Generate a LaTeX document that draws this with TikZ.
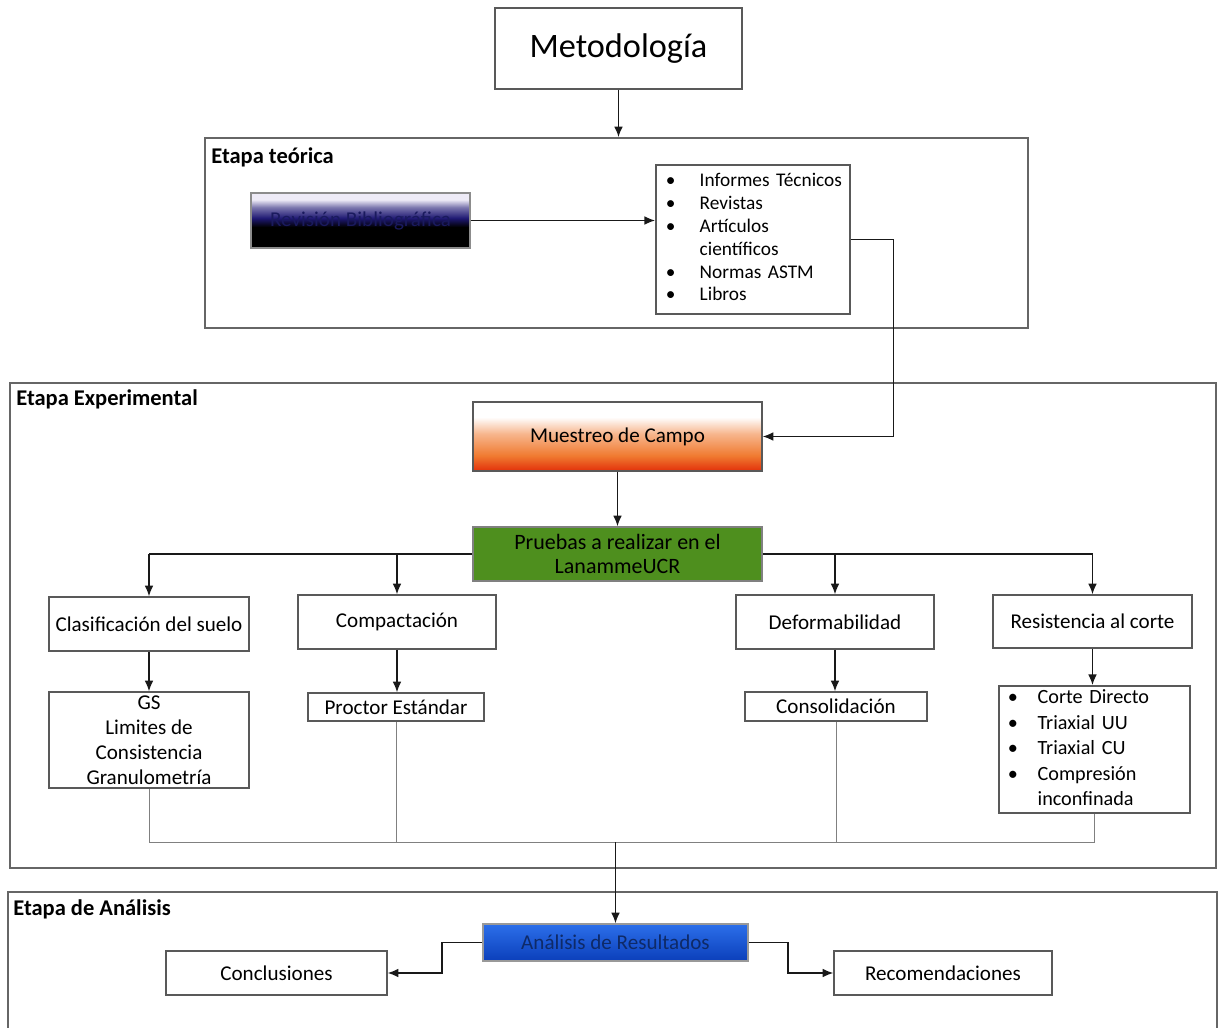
\documentclass[tikz,border=0pt]{standalone}
\usepackage{fontspec}
\setmainfont{Carlito}
\usetikzlibrary{arrows.meta}
\definecolor{revtop}{HTML}{EEEBF7}
\definecolor{revmid}{HTML}{1E1872}
\definecolor{revtext}{HTML}{1A1A5E}
\definecolor{muesmid}{HTML}{F07A30}
\definecolor{muesbot}{HTML}{E2300A}
\definecolor{pruebasgreen}{HTML}{4E8F1E}
\definecolor{anatop}{HTML}{2C6FEA}
\definecolor{anabot}{HTML}{0B3FBA}
\definecolor{anatext}{HTML}{0E2A68}
% sombreados
\pgfdeclareverticalshading{revshade}{100bp}{color(0bp)=(black); color(25bp)=(black);
  color(44bp)=(black); color(52bp)=(revmid); color(62bp)=(revmid!55!revtop);
  color(69bp)=(revtop); color(100bp)=(revtop)}
\pgfdeclareverticalshading{muesshade}{100bp}{color(0bp)=(muesbot); color(25bp)=(muesbot);
  color(36bp)=(muesmid); color(52bp)=(muesmid!55!white); color(64bp)=(white);
  color(100bp)=(white)}
\tikzset{
  stage/.style = {
    draw=black!60, line width=1pt, inner sep=0pt
  },
  stage label/.style = {
    anchor=base west, inner sep=0pt,
    font=\bfseries\fontsize{12.8}{14}\selectfont
  },
  box/.style = {
    draw=black!65, line width=0.9pt, fill=white, inner sep=0pt,
    align=center, font=\fontsize{12}{13}\selectfont
  },
  conn/.style = {
    draw=black!90, line width=0.85pt, -{Latex[length=6pt,width=5pt]}
  },
  link/.style = {
    draw=black!50, line width=0.5pt
  }
}

\begin{document}
\begin{tikzpicture}[x=0.02cm, y=-0.02cm]
    \useasboundingbox (0,0) rectangle (1225,1028);
    \clip (0,0) rectangle (1225,1028);
    % las etapas
    \node[stage, minimum width=16.46cm, minimum height=3.8cm] (teorica) at (616.5,233) {};
    \node[stage, minimum width=24.12cm, minimum height=9.7cm] (experimental) at (613,625.5) {};
    \node[stage, minimum width=24.18cm, minimum height=2.76cm] (analisis) at (612.5,961) {};
    \node[stage label] (lblteorica) at (211,163) {Etapa teórica};
    \node[stage label] (lblexperimental) at (16,405) {Etapa Experimental};
    \node[stage label] (lblanalisis) at (13,915) {Etapa de Análisis};
    % las cajas
    \node[box, minimum width=4.94cm, minimum height=1.62cm,
      font=\fontsize{19.5}{22}\selectfont] (metodo) at (618.5,48.5) {Metodología};
    \node[box, minimum width=4.38cm, minimum height=1.1cm, draw=black!45,
      shading=revshade, text=revtext] (revision) at (360.5,220.5) {Revisión Bibliográfica};
    \node[box, anchor=north west, text width=3.88cm, minimum height=2.98cm,
      align=left, font=\fontsize{11}{13}\selectfont] (fuentes) at (655,164) {%
      \begin{tabular}{@{\hspace{5.7pt}}p{19.3pt}@{}l@{}}
        \textbullet & Informes Técnicos\\
        \textbullet & Revistas\\
        \textbullet & Artículos\\
                    & científicos\\
        \textbullet & Normas ASTM\\
        \textbullet & Libros
      \end{tabular}};
    \node[box, minimum width=5.78cm, minimum height=1.38cm,
      shading=muesshade] (muestreo) at (617.5,436.5) {Muestreo de Campo};
    \node[box, minimum width=5.78cm, minimum height=1.08cm, fill=pruebasgreen,
      draw=black!50, font=\fontsize{12.5}{13.5}\selectfont] (pruebas) at (617.5,554) {Pruebas a realizar en el\\LanammeUCR};
    \node[box, minimum width=4cm, minimum height=1.08cm] (clasif) at (149,624) {Clasificación del suelo};
    \node[box, minimum width=3.96cm, minimum height=1.08cm] (compact) at (397,622) {Compactación};
    \node[box, minimum width=3.96cm, minimum height=1.08cm] (deform) at (835,622) {Deformabilidad};
    \node[box, minimum width=3.98cm, minimum height=1.06cm] (resist) at (1092.5,621.5) {Resistencia al corte};
    \node[box, minimum width=4cm, minimum height=1.92cm,
      font=\fontsize{12}{14.2}\selectfont] (gs) at (149,740) {GS\\Limites de\\Consistencia\\Granulometría};
    \node[box, minimum width=3.52cm, minimum height=0.56cm] (proctor) at (396,707) {Proctor Estándar};
    \node[box, minimum width=3.64cm, minimum height=0.58cm] (consol) at (836,706.5) {Consolidación};
    \node[box, anchor=north west, text width=3.82cm, minimum height=2.52cm,
      align=left, font=\fontsize{11.5}{14.5}\selectfont] (ensayos) at (998,685) {%
      \begin{tabular}{@{\hspace{5.1pt}}p{17pt}@{}l@{}}
        \textbullet & Corte Directo\\
        \textbullet & Triaxial UU\\
        \textbullet & Triaxial CU\\
        \textbullet & Compresión\\
                    & inconfinada
      \end{tabular}};
    \node[box, minimum width=5.3cm, minimum height=0.74cm, draw=black!40,
      top color=anatop, bottom color=anabot, text=anatext] (resultados) at (615.5,942.5) {Análisis de Resultados};
    \node[box, minimum width=4.42cm, minimum height=0.88cm] (conclus) at (276.5,973) {Conclusiones};
    \node[box, minimum width=4.36cm, minimum height=0.88cm] (recom) at (943,973) {Recomendaciones};
    \coordinate (join) at (615.5,842);
    % las flechas
    \draw[conn] (metodo.south) -- (metodo.south |- teorica.north);
    \draw[conn] (revision.east) -- (revision.east -| fuentes.west);
    \draw[conn] (fuentes.east) -- ++(43,0) |- (muestreo.east);
    \draw[conn] (muestreo.south) -- (pruebas.north);
    \draw[draw=black!90, line width=0.85pt]
      (pruebas.west) -- (clasif.north |- pruebas.west)
      (pruebas.east) -- (resist.north |- pruebas.east);
    \foreach \n in {clasif, compact, deform, resist}
      \draw[conn] (\n.north |- pruebas.west) -- (\n.north);
    \draw[conn] (clasif.south) -- (gs.north);
    \draw[conn] (compact.south) -- (compact.south |- proctor.north);
    \draw[conn] (deform.south) -- (deform.south |- consol.north);
    \draw[conn] (resist.south) -- (resist.south |- ensayos.north);
    % las uniones
    \draw[link] (gs.south) -- (gs.south |- join) -- (ensayos.south |- join) -- (ensayos.south);
    \draw[link] (proctor.south) -- (proctor.south |- join);
    \draw[link] (consol.south) -- (consol.south |- join);
    \draw[conn] (join) -- (join |- resultados.north);
    \draw[conn] (resultados.west) -- ++(-40,0) |- (conclus.east);
    \draw[conn] (resultados.east) -- ++(39,0) |- (recom.west);
\end{tikzpicture}
\end{document}
